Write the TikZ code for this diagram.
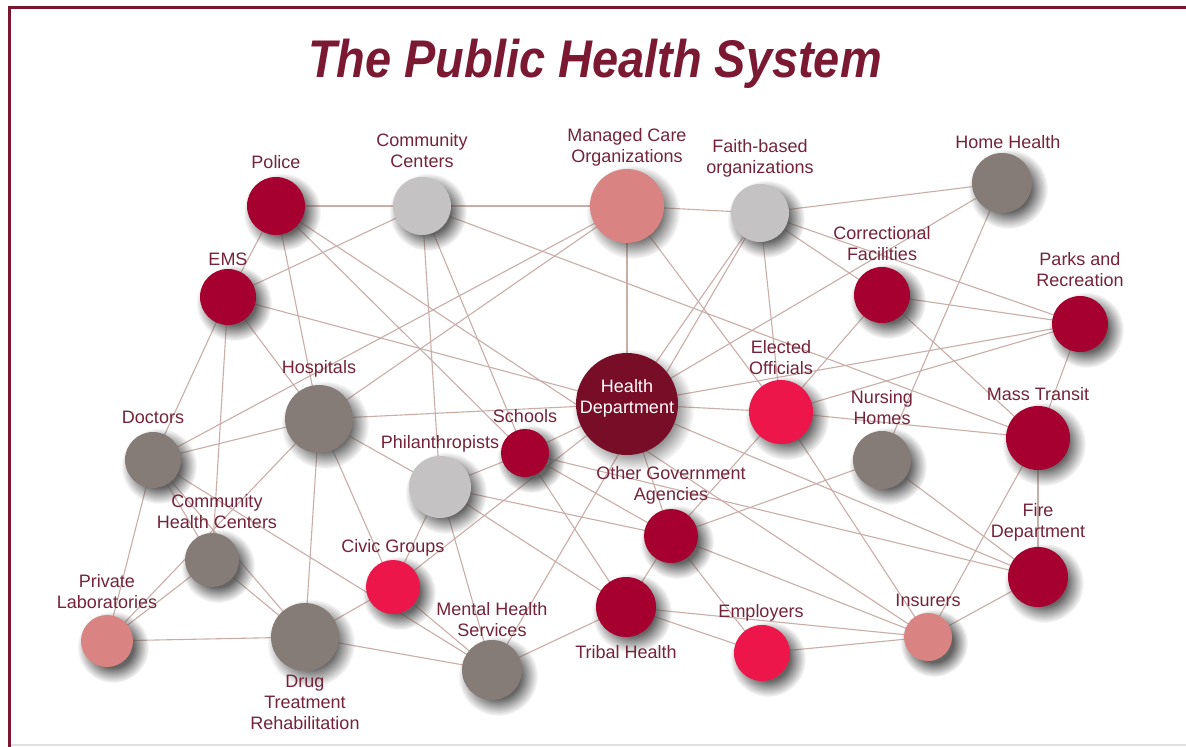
\documentclass[tikz,border=0pt]{standalone}
\usepackage{fontspec}
\setmainfont{Liberation Sans}
\usetikzlibrary{fadings}

\definecolor{frame}{HTML}{7A1730}
\definecolor{titlered}{HTML}{7B1832}
\definecolor{labelred}{HTML}{74233A}
\definecolor{linkcol}{HTML}{C9AEA8}
\definecolor{deepred}{HTML}{A5002F}
\definecolor{brightred}{HTML}{EC164B}
\definecolor{rose}{HTML}{D98482}
\definecolor{silver}{HTML}{C4C2C2}
\definecolor{taupe}{HTML}{857B77}
\definecolor{wine}{HTML}{770D27}
\definecolor{shadowgray}{HTML}{4A4A4A}

% soft round fading used for the drop shadows
\pgfdeclareradialshading{softshade}{\pgfpointorigin}{color(0bp)=(pgftransparent!0); color(14bp)=(pgftransparent!0); color(25bp)=(pgftransparent!100); color(50bp)=(pgftransparent!100)}
\pgfdeclarefading{softfade}{\pgfuseshading{softshade}}

\pgfdeclarelayer{backdrop}
\pgfdeclarelayer{links}
\pgfdeclarelayer{shadows}
\pgfsetlayers{backdrop,links,shadows,main}

\tikzset{
  hubdot/.style={circle, inner sep=0pt, draw=none},
  link/.style={draw=linkcol, line width=1.1bp},
  tag/.style={text=labelred, font=\fontsize{18bp}{21bp}\selectfont, align=center, inner sep=0pt},
}

% name, x, y, radius, colour
\newcommand\hub[5]{%
  \begin{pgfonlayer}{shadows}
    \fill[shadowgray, opacity=0.85, path fading=softfade] (#2+6,#3+6) circle[radius=#4+10];
  \end{pgfonlayer}
  \node[hubdot, fill=#5, minimum size=2*#4 bp] (#1) at (#2,#3) {};
}

\begin{document}
\begin{tikzpicture}[x=1bp,y=-1bp]
\useasboundingbox (0,0) rectangle (1186,747);
\begin{pgfonlayer}{backdrop}
  \fill[white] (0,0) rectangle (1186,747);
\end{pgfonlayer}

% frame
\draw[gray!25, line width=1.5bp] (9,745) -- (1186,745);
\draw[frame, line width=3bp] (9,747) -- (9,8) -- (1186,8);

% title
\node[anchor=base, text=titlered, inner sep=0pt] (title) at (595,78)
  {\scalebox{0.885}[1]{\fontsize{53bp}{60bp}\selectfont\bfseries\itshape The Public Health System}};

% organisations
\hub{police}{276}{206}{29}{deepred}
\hub{cc}{422}{206}{29}{silver}
\hub{mc}{627}{206}{37}{rose}
\hub{fb}{760}{213}{29}{silver}
\hub{hh}{1002}{183}{30}{taupe}
\hub{ems}{228}{297}{28}{deepred}
\hub{corr}{882}{295}{28}{deepred}
\hub{parks}{1080}{324}{28}{deepred}
\hub{hosp}{319}{419}{34}{taupe}
\hub{hd}{627}{404}{51}{wine}
\hub{elect}{781}{412}{32}{brightred}
\hub{nh}{882}{460}{29}{taupe}
\hub{mt}{1038}{438}{32}{deepred}
\hub{doc}{153}{460}{28}{taupe}
\hub{school}{525}{453}{24}{deepred}
\hub{phil}{440}{487}{31}{silver}
\hub{oga}{671}{536}{27}{deepred}
\hub{chc}{212}{560}{27}{taupe}
\hub{fire}{1038}{577}{30}{deepred}
\hub{civic}{393}{587}{27}{brightred}
\hub{pl}{107}{641}{26}{rose}
\hub{drug}{305}{637}{34}{taupe}
\hub{mh}{492}{670}{30}{taupe}
\hub{tribal}{626}{607}{30}{deepred}
\hub{employ}{762}{653}{28}{brightred}
\hub{insur}{928}{637}{24}{rose}

% connections
\begin{pgfonlayer}{links}
\foreach \a/\b in {
  police/cc, police/ems, police/hosp, police/school, police/insur,
  cc/mc, cc/ems, cc/phil, cc/school, cc/mt,
  mc/fb, mc/hd, mc/hosp, mc/doc, mc/elect,
  fb/hh, fb/corr, fb/parks, fb/elect, fb/hd, fb/mh,
  hh/hd, hh/nh,
  ems/doc, ems/chc, ems/hosp, ems/hd,
  corr/parks, corr/elect, corr/mt,
  parks/hd, parks/elect, parks/mt,
  hosp/doc, hosp/phil, hosp/hd, hosp/drug, hosp/civic, hosp/pl,
  hd/school, hd/elect, hd/oga, hd/fire, hd/civic,
  elect/mt, elect/oga, elect/insur,
  nh/oga, nh/fire,
  mt/fire, mt/insur,
  doc/pl, doc/chc, doc/drug, doc/mh,
  school/phil, school/tribal, school/oga, school/fire,
  phil/civic, phil/mh, phil/oga, phil/tribal,
  oga/tribal, oga/employ, oga/insur,
  chc/pl, chc/drug,
  fire/insur,
  civic/drug, civic/mh,
  pl/drug, drug/mh, mh/tribal,
  tribal/employ, tribal/insur, employ/insur}
  \draw[link] (\a.center) -- (\b.center);
\end{pgfonlayer}

% labels
\node[tag] (t-police) at (276,162) {Police};
\node[tag] (t-cc) at (422,151) {Community\\Centers};
\node[tag] (t-mc) at (627,147) {Managed Care\\Organizations};
\node[tag] (t-fb) at (760,158) {Faith-based\\organizations};
\node[tag] (t-hh) at (1008,142) {Home Health};
\node[tag] (t-ems) at (228,259) {EMS};
\node[tag] (t-corr) at (882,244) {Correctional\\Facilities};
\node[tag] (t-parks) at (1080,270) {Parks and\\Recreation};
\node[tag] (t-hosp) at (319,369) {Hospitals};
\node[tag, text=white] (t-hd) at (627,398) {Health\\Department};
\node[tag] (t-elect) at (781,358) {Elected\\Officials};
\node[tag] (t-nh) at (882,408) {Nursing\\Homes};
\node[tag] (t-mt) at (1038,394) {Mass Transit};
\node[tag] (t-doc) at (153,417) {Doctors};
\node[tag] (t-school) at (525,416) {Schools};
\node[tag] (t-phil) at (440,444) {Philanthropists};
\node[tag] (t-oga) at (671,485) {Other Government\\Agencies};
\node[tag] (t-chc) at (217,512) {Community\\Health Centers};
\node[tag] (t-fire) at (1038,522) {Fire\\Department};
\node[tag] (t-civic) at (393,548) {Civic Groups};
\node[tag] (t-pl) at (107,592) {Private\\Laboratories};
\node[tag] (t-drug) at (305,702) {Drug\\Treatment\\Rehabilitation};
\node[tag] (t-mh) at (492,620) {Mental Health\\Services};
\node[tag] (t-tribal) at (626,652) {Tribal Health};
\node[tag] (t-employ) at (761,613) {Employers};
\node[tag] (t-insur) at (928,600) {Insurers};
\end{tikzpicture}
\end{document}
